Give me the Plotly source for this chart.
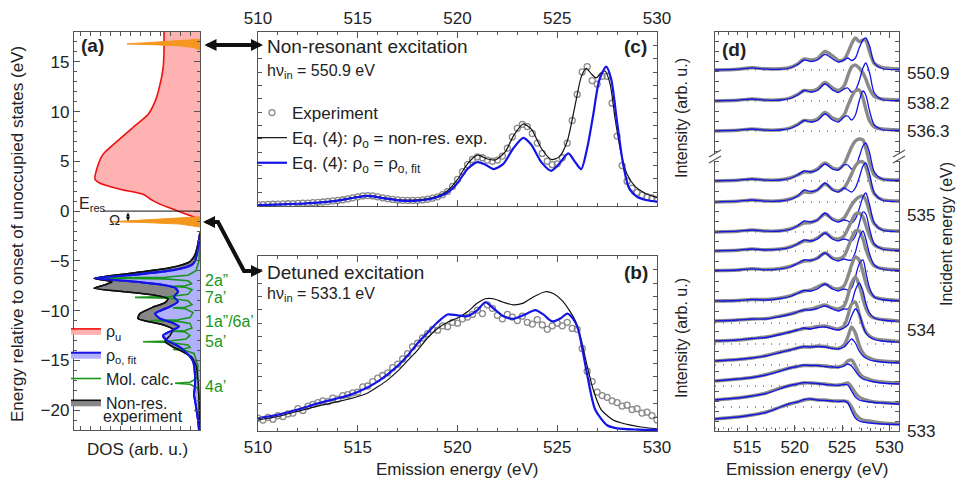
import plotly.graph_objects as go

W, H = 958, 480
FONT = "Liberation Sans, Arial, Helvetica, sans-serif"

# ---------------- Panel (a): densities of states (energy in eV, DOS in arb. u.) ----------------
rho_u_energy = [-1.0, -0.6, -0.2, 0.3, 0.7, 1.1, 1.7, 2.2, 2.8, 3.2, 4.3, 5.7, 7.0, 8.4, 9.7, 11.0, 12.3, 14.3, 16.0, 18.0]
rho_u_dos = [0.0, 0.06, 0.17, 0.30, 0.40, 0.48, 0.57, 0.80, 1.0, 1.05, 1.03, 0.97, 0.83, 0.67, 0.52, 0.45, 0.41, 0.37, 0.36, 0.36]

rho_fit_energy = [-2.3, -3.5, -4.4, -5.0, -5.4, -5.9, -6.4, -6.75, -7.0, -7.4, -7.7, -8.1, -8.6, -9.1, -9.6, -10.3,
                  -10.8, -11.2, -11.6, -12.0, -12.5, -13.0, -13.5, -14.1, -15.1, -16.5, -17.5, -18.5, -19.0, -20.0, -21.0, -22.0]
rho_fit_dos = [0.0, 0.015, 0.033, 0.05, 0.083, 0.25, 0.65, 1.05, 0.75, 0.38, 0.25, 0.22, 0.26, 0.22, 0.30, 0.45,
               0.40, 0.28, 0.21, 0.28, 0.37, 0.33, 0.23, 0.15, 0.07, 0.05, 0.05, 0.06, 0.05, 0.035, 0.02, 0.01]

nonres_energy = [-2.2, -3.3, -4.4, -5.07, -5.7, -6.2, -6.75, -7.1, -7.4, -7.75, -8.1, -8.4, -8.8, -9.2, -9.7, -10.3,
                 -10.8, -11.4, -11.9, -12.5, -13.1, -13.6, -14.1, -14.7, -15.5, -17.0, -19.0, -22.0]
nonres_dos = [0.0, 0.02, 0.05, 0.10, 0.30, 0.65, 1.06, 0.88, 0.95, 1.06, 0.75, 0.48, 0.32, 0.35, 0.48, 0.60,
              0.62, 0.38, 0.27, 0.30, 0.35, 0.28, 0.18, 0.08, 0.04, 0.02, 0.01, 0.005]

molcalc_energy = [-2.0, -5.0, -6.0, -6.45, -6.65, -6.73, -6.81, -7.0, -7.3, -7.5, -7.57, -7.64, -7.9, -8.35, -8.58,
                  -8.67, -8.76, -9.0, -9.4, -9.66, -9.73, -9.8, -10.2, -10.7, -10.92, -11.0, -11.08, -11.3, -11.75,
                  -12.0, -12.07, -12.14, -12.5, -12.85, -13.05, -13.13, -13.21, -13.45, -13.7, -13.83, -13.9, -13.97,
                  -14.3, -15.5, -16.8, -17.2, -17.3, -17.4, -17.8, -19.0, -22.0]
molcalc_dos = [0.0, 0.01, 0.04, 0.12, 0.35, 1.05, 0.35, 0.12, 0.08, 0.15, 0.27, 0.15, 0.08, 0.12, 0.30,
               0.65, 0.30, 0.12, 0.08, 0.15, 0.27, 0.15, 0.07, 0.10, 0.22, 0.50, 0.22, 0.10, 0.08,
               0.15, 0.27, 0.15, 0.10, 0.14, 0.30, 0.57, 0.30, 0.12, 0.10, 0.16, 0.27, 0.16,
               0.06, 0.02, 0.03, 0.10, 0.25, 0.10, 0.02, 0.005, 0.0]

exc_nonres_energy = [17.27, 17.1, 16.95, 16.8, 16.72, 16.6, 16.45, 16.2]
exc_nonres_dos = [0.0, 0.25, 0.50, 0.73, 0.45, 0.2, 0.07, 0.0]
exc_detuned_energy = [-0.57, -0.75, -0.92, -1.07, -1.15, -1.3, -1.6]
exc_detuned_dos = [0.0, 0.3, 0.6, 0.88, 0.55, 0.2, 0.0]

orbital_labels = ["2a”", "7a’", "1a”/6a’", "5a’", "4a’"]
orbital_energies = [-7.0, -8.7, -11.1, -13.1, -17.6]

# ---------------- Panel (c): non-resonant excitation ----------------
c_exp_energy = [510.00 + 0.25 * i for i in range(81)]
c_exp_int = [0.005, 0.005, 0.006, 0.007, 0.008, 0.009, 0.010, 0.011, 0.012, 0.013, 0.014, 0.016, 0.018, 0.020,
             0.023, 0.026, 0.029, 0.033, 0.038, 0.044, 0.050, 0.055, 0.057, 0.055, 0.050, 0.044, 0.039, 0.035,
             0.032, 0.030, 0.029, 0.029, 0.030, 0.032, 0.036, 0.042, 0.050, 0.062, 0.080, 0.110, 0.150, 0.195,
             0.235, 0.265, 0.280, 0.275, 0.262, 0.255, 0.262, 0.285, 0.330, 0.395, 0.445, 0.468, 0.455, 0.415,
             0.360, 0.300, 0.255, 0.235, 0.240, 0.275, 0.360, 0.490, 0.640, 0.770, 0.800, 0.720, 0.700, 0.745,
             0.745, 0.590, 0.400, 0.230, 0.140, 0.100, 0.075, 0.060, 0.050, 0.043, 0.037]
c_nonres_energy = [510, 511, 512, 513, 514, 514.75, 515.5, 516.25, 517, 518, 518.75, 519.5, 520, 520.5, 521, 521.5,
                   521.9, 522.4, 522.8, 523.3, 523.7, 524.2, 524.7, 525.1, 525.5, 525.9, 526.2, 526.45, 526.7, 526.95,
                   527.2, 527.4, 527.65, 527.9, 528.2, 528.5, 528.9, 529.4, 530]
c_nonres_int = [0.003, 0.006, 0.01, 0.017, 0.03, 0.045, 0.058, 0.045, 0.033, 0.033, 0.045, 0.085, 0.15, 0.24, 0.29,
                0.268, 0.262, 0.31, 0.40, 0.47, 0.44, 0.33, 0.265, 0.28, 0.37, 0.58, 0.74, 0.79, 0.76, 0.735,
                0.765, 0.775, 0.70, 0.50, 0.30, 0.18, 0.11, 0.07, 0.045]
c_fit_energy = [510, 511, 512, 513, 514, 514.75, 515.5, 516.25, 517, 518, 518.75, 519.5, 520, 520.5, 521, 521.4,
                521.8, 522.3, 522.8, 523.3, 523.7, 524.2, 524.7, 525.1, 525.55, 525.9, 526.2, 526.5, 526.8, 527.1,
                527.45, 527.7, 528.0, 528.3, 528.6, 529.0, 529.5, 530]
c_fit_int = [0.002, 0.005, 0.01, 0.017, 0.028, 0.043, 0.055, 0.042, 0.03, 0.028, 0.04, 0.075, 0.13, 0.21, 0.25,
             0.235, 0.21, 0.24, 0.33, 0.39, 0.35, 0.25, 0.20, 0.24, 0.30, 0.25, 0.21, 0.33, 0.52, 0.72,
             0.80, 0.73, 0.48, 0.24, 0.10, 0.05, 0.03, 0.022]

# ---------------- Panel (b): detuned excitation ----------------
b_exp_energy = [510.00 + 0.25 * i for i in range(81)]
b_exp_int = [0.07, 0.06, 0.075, 0.065, 0.085, 0.08, 0.095, 0.10, 0.125, 0.115, 0.14, 0.15, 0.16, 0.17, 0.165,
             0.185, 0.18, 0.2, 0.205, 0.215, 0.22, 0.25, 0.255, 0.28, 0.3, 0.315, 0.33, 0.36, 0.38, 0.41, 0.44,
             0.48, 0.5, 0.53, 0.555, 0.58, 0.575, 0.6, 0.595, 0.62, 0.615, 0.64, 0.65, 0.665, 0.69, 0.67, 0.72,
             0.70, 0.66, 0.64, 0.665, 0.65, 0.63, 0.655, 0.62, 0.61, 0.635, 0.605, 0.58, 0.6, 0.615, 0.6, 0.62,
             0.585, 0.58, 0.47, 0.34, 0.28, 0.22, 0.2, 0.19, 0.17, 0.16, 0.14, 0.145, 0.12, 0.125, 0.1, 0.105,
             0.085, 0.06]
b_nonres_energy = [510, 511, 512, 513, 514, 515, 515.5, 516, 516.5, 517, 517.5, 518, 518.5, 519, 519.5, 520, 520.5,
                   521, 521.4, 521.8, 522.3, 522.8, 523.3, 523.8, 524.4, 524.8, 525.2, 525.6, 525.9, 526.2, 526.5,
                   526.8, 527.2, 527.8, 528.5, 529.2, 530]
b_nonres_int = [0.06, 0.08, 0.11, 0.14, 0.165, 0.195, 0.215, 0.25, 0.29, 0.34, 0.40, 0.46, 0.53, 0.585, 0.62, 0.645,
                0.68, 0.73, 0.755, 0.755, 0.735, 0.72, 0.73, 0.765, 0.795, 0.785, 0.75, 0.69, 0.63, 0.52, 0.37,
                0.235, 0.12, 0.06, 0.035, 0.02, 0.01]
b_fit_energy = [510, 511, 512, 513, 514, 514.5, 515, 516, 517, 517.5, 518, 518.5, 519, 519.5, 520, 520.5, 521,
                521.4, 521.8, 522.3, 522.8, 523.3, 523.9, 524.3, 524.75, 525.2, 525.5, 525.8, 526.05, 526.45,
                526.9, 527.5, 528, 529, 530]
b_fit_int = [0.07, 0.09, 0.12, 0.155, 0.185, 0.2, 0.22, 0.28, 0.37, 0.43, 0.50, 0.56, 0.62, 0.665, 0.66, 0.655,
             0.69, 0.735, 0.70, 0.655, 0.64, 0.66, 0.69, 0.665, 0.625, 0.645, 0.67, 0.64, 0.58, 0.35,
             0.12, 0.03, 0.012, 0.005, 0.003]

# ---------------- Panel (d): RIXS spectra stacked by incident energy ----------------
d_emission = [511.6, 514, 515.5, 517, 518.5, 519.5, 520.3, 521, 521.7, 522.4, 523.2, 524.0, 524.6, 525.2,
              525.6, 526.0, 526.4, 526.8, 527.2, 527.5, 527.9, 528.4, 529.2, 531]
d_offsets = [361, 330, 300, 250, 229, 199, 180, 160, 129, 108, 87, 66, 45, 24, 3]
d_incident_labels = ["550.9", "538.2", "536.3", "535", "534", "533"]
d_incident_label_pos = [358, 328, 300, 216, 101, 0]

exp_s01 = [0, 0.8, 2.2, 1.2, 1.2, 2.5, 6, 11, 10, 11.5, 18.5, 14, 9.5, 10.5, 17, 26, 32, 28.5, 30, 29.5, 18, 6.5, 2.6, 1]
fit_s01 = [0, 0.8, 2.2, 0.8, 0.8, 2, 5.5, 10, 8.5, 10, 15.6, 11, 8, 10, 12, 9.5, 12, 22, 30, 32, 24, 7, 1.5, 0.5]
exp_s02 = [0, 0.8, 2, 1, 1.2, 3, 6.5, 10.5, 10, 12, 18.5, 13, 10.5, 15, 25, 34, 36, 33, 28, 22, 12, 4.5, 2, 1]
fit_s02 = [0, 0.8, 2, 0.8, 1, 2.5, 6, 10.5, 9, 10.5, 17, 11, 8.5, 12, 13, 9, 11, 20, 33, 38, 28, 8, 1.5, 0.5]
exp_s03 = [0, 0.8, 2, 1, 1.2, 3, 6.5, 10.5, 10, 12, 18.5, 13, 11, 16, 25, 34, 40, 41, 33, 22, 10, 4, 2, 1]
fit_s03 = [0, 0.8, 2, 0.8, 1, 2.5, 6, 10.5, 9, 10.5, 17, 11, 9, 14, 15, 11, 16, 30, 40, 36, 20, 6, 1.5, 0.5]
exp_s04 = [0, 0.8, 2, 1, 1.2, 3, 6, 9, 9, 12, 18, 13, 12, 17, 25, 34, 40, 42, 41, 33, 18, 6, 2, 1]
fit_s04 = [0, 0.8, 2, 0.8, 1, 2.5, 6, 10, 9, 11, 17, 12, 11, 16, 16, 12, 14, 24, 35, 38, 28, 9, 2, 0.5]
exp_s05 = [0, 0.8, 2, 1, 1.2, 3, 6, 10, 9.5, 12, 18, 12.5, 11, 14, 20, 28, 36, 40, 40, 35, 22, 8, 2.5, 1]
fit_s05 = [0, 0.8, 2, 0.8, 1, 2.5, 6, 12, 10.5, 12, 19, 12, 10, 14, 12, 10, 14, 24, 36, 39, 28, 9, 2, 0.5]
exp_s06 = [0, 0.8, 2, 1, 1.2, 3, 6, 9, 9.5, 12, 18, 13, 11, 14, 20, 27, 32, 35, 36, 32, 20, 8, 2.5, 1]
fit_s06 = [0, 0.8, 2, 0.8, 1, 2.5, 6, 11, 10, 12, 19, 12, 10, 12, 11, 9, 13, 23, 35, 39, 27, 9, 2, 0.5]
exp_s07 = [0, 0.8, 2, 1.2, 2, 4, 7, 10, 10, 13, 18, 13, 12, 15, 22, 30, 37, 38, 34, 26, 15, 6, 2.5, 1]
fit_s07 = [0, 0.8, 2, 1, 1.8, 3.5, 7, 11, 10, 12, 18, 12, 10, 12, 11, 10, 15, 27, 39, 37, 22, 7, 2, 0.5]
exp_s08 = [0.5, 1, 2.2, 1.5, 2.5, 4.5, 7.5, 10, 10.5, 13, 18, 13, 12, 15, 23, 33, 40, 40, 32, 22, 12, 5, 2.5, 1]
fit_s08 = [0.5, 1, 2.2, 1.2, 2.2, 4, 7.5, 11, 10.5, 12.5, 18, 12, 10, 12, 11, 11, 19, 33, 40, 32, 17, 6, 2, 0.5]
exp_s09 = [1, 1.5, 2.5, 2.5, 4, 6, 9, 11, 12, 15, 18, 14, 13, 16, 25, 37, 45, 42, 30, 19, 10, 5, 3, 1.5]
fit_s09 = [1, 1.5, 2.5, 2, 3.5, 5.5, 8.5, 11.5, 11, 13, 18, 13, 11, 13, 12, 14, 25, 38, 42, 30, 14, 5, 2.5, 1]
exp_s10 = [2, 3, 4, 4.5, 7, 9, 11, 13, 14, 16, 18, 15, 14, 17, 27, 40, 46, 38, 24, 15, 8, 5, 3.5, 2]
fit_s10 = [2, 3, 4, 4, 6.5, 8.5, 11, 13, 13, 14.5, 17, 14, 12, 14, 14, 20, 33, 40, 32, 20, 10, 5, 3, 1.5]
exp_s11 = [3, 4, 5.5, 7, 10, 12, 14, 15.5, 16, 17.5, 18, 16, 15, 18, 28, 40, 42, 30, 18, 12, 8, 5.5, 4, 2.5]
fit_s11 = [3, 4, 5.5, 6.5, 9.5, 12, 14, 16, 15, 16.5, 17, 15, 14, 16, 19, 28, 35, 30, 18, 11, 7, 4.5, 3, 2]
exp_s12 = [4, 5.5, 7, 9.5, 13, 15, 17, 18, 18, 19, 18.5, 17, 16.5, 20, 28, 38, 32, 20, 12, 9, 7, 5, 4, 3]
fit_s12 = [4, 5.5, 7, 9, 12.5, 15, 17, 18.5, 18, 18.5, 18, 16.5, 16, 18, 22, 26, 22, 14, 9, 7, 5, 4, 3, 2]
exp_s13 = [5, 7, 8.5, 11.5, 15.5, 18, 19.5, 20.5, 20.5, 20.5, 20, 19, 19, 21, 25, 26, 20, 13, 9, 8, 6.5, 5, 4, 3]
fit_s13 = [5, 7, 8.5, 11, 15, 18, 19.5, 21, 20.5, 20.5, 19.5, 19, 18.5, 20, 22, 20, 15, 10, 7, 6, 5, 4, 3, 2]
exp_s14 = [7, 9, 11, 14, 19, 21.5, 23, 24, 24, 23.5, 23, 22, 22, 23, 24, 20, 14, 10, 8, 7, 6, 5, 4.5, 3.5]
fit_s14 = [7, 9, 11, 13.5, 18.5, 21.5, 23, 24.5, 24, 23.5, 22.5, 22, 21.5, 22.5, 22, 16, 10, 7, 6, 5.5, 5, 4.5, 4, 3]
exp_s15 = [9, 11, 13, 16, 21, 24, 26, 28, 29, 28, 28, 27, 27, 27, 26, 21, 14, 10, 8, 7.5, 7, 6, 5, 4]
fit_s15 = [9, 11, 13, 15.5, 21, 24.5, 26, 28.5, 29, 28, 27.5, 27, 26.5, 27, 25, 17, 10, 7, 6, 5.5, 5, 4.5, 4, 3.5]

d_exp = [exp_s01, exp_s02, exp_s03, exp_s04, exp_s05, exp_s06, exp_s07, exp_s08,
         exp_s09, exp_s10, exp_s11, exp_s12, exp_s13, exp_s14, exp_s15]
d_fit = [fit_s01, fit_s02, fit_s03, fit_s04, fit_s05, fit_s06, fit_s07, fit_s08,
         fit_s09, fit_s10, fit_s11, fit_s12, fit_s13, fit_s14, fit_s15]

# ---------------- colours ----------------
RED, PINK = "#f01010", "rgba(255,170,170,0.9)"
BLUE, LAV = "#1414e6", "rgb(176,176,252)"
BLACK, GREYF = "#111111", "rgb(135,135,135)"
GREEN = "#1a961a"
ORANGE = "rgb(245,150,30)"
GREYC = "#8a8a8a"
AXC = "#555555"


def px(x):
    return x / W


def py(y):
    return 1 - y / H


fig = go.Figure()

# ---- panel (a) ----
fig.add_trace(go.Scatter(x=nonres_dos, y=nonres_energy, xaxis="x", yaxis="y", mode="lines", fill="tozerox",
                         fillcolor=GREYF, line=dict(color=BLACK, width=1.6, shape="spline", smoothing=0.6),
                         name="Non-res.", legend="legend", legendgroup="a4", legendrank=4))
fig.add_trace(go.Scatter(x=rho_fit_dos, y=rho_fit_energy, xaxis="x", yaxis="y", mode="lines", fill="tozerox",
                         fillcolor=LAV, line=dict(color=BLUE, width=2, shape="spline", smoothing=0.6),
                         name="ρ<sub>o, fit</sub>", legend="legend", legendgroup="a2", legendrank=2))
fig.add_trace(go.Scatter(x=rho_u_dos, y=rho_u_energy, xaxis="x", yaxis="y", mode="lines", fill="tozerox",
                         fillcolor=PINK, line=dict(color=RED, width=1.6, shape="spline", smoothing=0.6),
                         name="ρ<sub>u</sub>", legend="legend", legendgroup="a1", legendrank=1))
for ex, en in ((exc_nonres_dos, exc_nonres_energy), (exc_detuned_dos, exc_detuned_energy)):
    fig.add_trace(go.Scatter(x=ex, y=en, xaxis="x", yaxis="y", mode="lines", fill="tozerox",
                             fillcolor=ORANGE, line=dict(color=ORANGE, width=1), showlegend=False))
fig.add_trace(go.Scatter(x=molcalc_dos, y=molcalc_energy, xaxis="x", yaxis="y", mode="lines",
                         line=dict(color=GREEN, width=1.6), name="Mol. calc.", legend="legend",
                         legendgroup="a3", legendrank=3))
fig.add_trace(go.Scatter(x=nonres_dos, y=nonres_energy, xaxis="x", yaxis="y", mode="lines",
                         line=dict(color=BLACK, width=1.6, shape="spline", smoothing=0.6), showlegend=False))
fig.add_trace(go.Scatter(x=rho_fit_dos, y=rho_fit_energy, xaxis="x", yaxis="y", mode="lines",
                         line=dict(color=BLUE, width=2, shape="spline", smoothing=0.6), showlegend=False))

# ---- panel (c) ----
fig.add_trace(go.Scatter(x=c_exp_energy, y=c_exp_int, xaxis="x2", yaxis="y2", mode="markers",
                         marker=dict(symbol="circle-open", size=6, color=GREYC, line=dict(width=1.3)),
                         name="Experiment", legend="legend2", legendgroup="c1"))
fig.add_trace(go.Scatter(x=c_nonres_energy, y=c_nonres_int, xaxis="x2", yaxis="y2", mode="lines",
                         line=dict(color=BLACK, width=1.2, shape="spline", smoothing=0.7),
                         name="Eq. (4): ρ<sub>o</sub> = non-res. exp.", legend="legend2", legendgroup="c2"))
fig.add_trace(go.Scatter(x=c_fit_energy, y=c_fit_int, xaxis="x2", yaxis="y2", mode="lines",
                         line=dict(color=BLUE, width=2.2, shape="spline", smoothing=0.7),
                         name="Eq. (4): ρ<sub>o</sub> = ρ<sub>o, fit</sub>", legend="legend2", legendgroup="c3"))

# ---- panel (b) ----
fig.add_trace(go.Scatter(x=b_exp_energy, y=b_exp_int, xaxis="x3", yaxis="y3", mode="markers",
                         marker=dict(symbol="circle-open", size=6, color=GREYC, line=dict(width=1.3)),
                         showlegend=False))
fig.add_trace(go.Scatter(x=b_nonres_energy, y=b_nonres_int, xaxis="x3", yaxis="y3", mode="lines",
                         line=dict(color=BLACK, width=1.2, shape="spline", smoothing=0.7), showlegend=False))
fig.add_trace(go.Scatter(x=b_fit_energy, y=b_fit_int, xaxis="x3", yaxis="y3", mode="lines",
                         line=dict(color=BLUE, width=2.2, shape="spline", smoothing=0.7), showlegend=False))

# ---- panel (d) ----
shapes = []
for off, ex, ft in zip(d_offsets, d_exp, d_fit):
    shapes.append(dict(type="line", xref="x4 domain", yref="y4", x0=0, x1=1, y0=off, y1=off,
                       line=dict(color="#777777", width=1.6, dash="1px,7px"), layer="below"))
    fig.add_trace(go.Scatter(x=d_emission, y=[off + v for v in ex], xaxis="x4", yaxis="y4", mode="lines",
                             line=dict(color=GREYC, width=3.4, shape="spline", smoothing=0.8), showlegend=False))
    fig.add_trace(go.Scatter(x=d_emission, y=[off + v for v in ft], xaxis="x4", yaxis="y4", mode="lines",
                             line=dict(color=BLUE, width=1.3, shape="spline", smoothing=0.8), showlegend=False))

# ---------------- axes ----------------
common = dict(showline=True, linecolor=AXC, linewidth=1.4, mirror="ticks", ticks="inside", tickcolor=AXC,
              tickwidth=1, showgrid=False, zeroline=False, automargin=False,
              tickfont=dict(size=17, color="#222", family=FONT))
minor_e = dict(dtick=1, ticks="inside", ticklen=3, tickcolor=AXC)

fig.update_layout(
    template="none",
    xaxis=dict(common, domain=[px(74), px(200)], range=[1.26, 0], dtick=0.1, ticklen=4,
               showticklabels=False, anchor="y"),
    yaxis=dict(common, domain=[py(430), py(32)], range=[-22, 18], dtick=5, ticklen=6, minor=minor_e,
               anchor="x"),
    xaxis2=dict(common, domain=[px(258), px(657)], range=[510, 530], dtick=5, ticklen=6, minor=minor_e,
                side="top", anchor="y2"),
    yaxis2=dict(common, domain=[py(206), py(32)], range=[-0.003, 1.0], dtick=0.0768, ticklen=4,
                showticklabels=False, anchor="x2"),
    xaxis3=dict(common, domain=[px(258), px(657)], range=[510, 530], dtick=5, ticklen=6, minor=minor_e,
                anchor="y3"),
    yaxis3=dict(common, domain=[py(431), py(256)], range=[-0.003, 1.0], dtick=0.0768, ticklen=4,
                showticklabels=False, anchor="x3"),
    xaxis4=dict(common, domain=[px(715), px(899)], range=[511.6, 531], dtick=5, tick0=510, ticklen=6,
                minor=minor_e, anchor="y4"),
    yaxis4=dict(common, domain=[py(431), py(32)], range=[0, 399], dtick=10, ticklen=4,
                showticklabels=False, anchor="x4"),
)

# ---------------- annotations ----------------
ann = []


def text(t, x, y, size=17, xanchor="left", yanchor="middle", color="#222", angle=0, bold=False):
    if bold:
        t = "<b>" + t + "</b>"
    ann.append(dict(text=t, x=px(x), y=py(y), xref="paper", yref="paper", showarrow=False, xanchor=xanchor,
                    yanchor=yanchor, textangle=angle, font=dict(size=size, color=color, family=FONT)))


text("(a)", 79, 45, size=19, bold=True)
text("(c)", 649, 47, size=19, xanchor="right", bold=True)
text("(b)", 650, 272, size=19, xanchor="right", bold=True)
text("(d)", 720, 50, size=19, bold=True)
text("Non-resonant excitation", 265, 46, size=19)
text("hν<sub>in</sub> = 550.9 eV", 265, 71, size=16)
text("Detuned excitation", 265, 272, size=19)
text("hν<sub>in</sub> = 533.1 eV", 265, 294, size=16)
text("DOS (arb. u.)", 137, 449, size=17, xanchor="center")
text("Emission energy (eV)", 457, 469, size=17, xanchor="center")
text("Emission energy (eV)", 807, 469, size=17, xanchor="center")
text("Energy relative to onset of unoccupied states (eV)", 17, 234, size=17, xanchor="center", angle=-90)
text("Intensity (arb. u.)", 681, 118, size=16, xanchor="center", angle=-90)
text("Intensity (arb. u.)", 681, 338, size=16, xanchor="center", angle=-90)
text("Incident energy (eV)", 946, 234, size=16, xanchor="center", angle=-90)
text("E<sub>res</sub>", 77, 204, size=16)
text("experiment", 101, 416, size=16)

for lab, en in zip(orbital_labels, orbital_energies):
    ann.append(dict(text=lab, x=px(203), y=en, xref="paper", yref="y", showarrow=False, xanchor="left",
                    yanchor="middle", font=dict(size=16, color=GREEN, family=FONT)))

for lab, pos in zip(d_incident_labels, d_incident_label_pos):
    ann.append(dict(text=lab, x=px(905), y=pos, xref="paper", yref="y4", showarrow=False, xanchor="left",
                    yanchor="middle", font=dict(size=17, color="#222", family=FONT)))

# Omega arrow between E_res and the detuned excitation
ann.append(dict(text="", x=0.72, y=-1.0, xref="x", yref="y", ax=0, ay=-10, axref="pixel", ayref="pixel",
                showarrow=True, arrowhead=2, arrowside="end+start", arrowsize=0.8, arrowwidth=1,
                arrowcolor=BLACK))
ann.append(dict(text="Ω", x=0.86, y=-0.8, xref="x", yref="y", showarrow=False, xanchor="center",
                yanchor="middle", font=dict(size=15, color="#222", family=FONT)))

# big arrows linking DOS panel with spectra
ann.append(dict(text="", x=px(263), y=py(45), xref="paper", yref="paper", ax=-60, ay=0, showarrow=True,
                arrowhead=2, arrowside="end+start", arrowsize=0.6, arrowwidth=4, arrowcolor=BLACK))
ann.append(dict(text="", x=px(203), y=py(222), xref="paper", yref="paper", ax=14, ay=0, showarrow=True,
                arrowhead=2, arrowsize=0.6, arrowwidth=4, arrowcolor=BLACK))
ann.append(dict(text="", x=px(263), y=py(271), xref="paper", yref="paper", ax=-14, ay=0, showarrow=True,
                arrowhead=2, arrowsize=0.6, arrowwidth=4, arrowcolor=BLACK))
shapes.append(dict(type="path", xref="paper", yref="paper",
                   path=f"M {px(212)},{py(222)} L {px(218)},{py(222)} L {px(244)},{py(271)} L {px(252)},{py(271)}",
                   line=dict(color=BLACK, width=4)))

# E_res level line
shapes.append(dict(type="line", xref="x", yref="y", x0=0.97, x1=0, y0=0, y1=0, line=dict(color=BLACK, width=1)))

# axis breaks on panel (d)
for xb in (715, 899):
    shapes.append(dict(type="rect", xref="paper", yref="paper", x0=px(xb - 3), x1=px(xb + 3), y0=py(161),
                       y1=py(154), fillcolor="white", line=dict(width=0)))
    for dy in (-3, 3):
        shapes.append(dict(type="line", xref="paper", yref="paper", x0=px(xb - 6), x1=px(xb + 6),
                           y0=py(160 + dy), y1=py(153 + dy), line=dict(color=AXC, width=1.2)))

fig.update_layout(
    width=W, height=H, margin=dict(l=0, r=0, t=0, b=0, pad=0), autosize=False,
    paper_bgcolor="white", plot_bgcolor="rgba(0,0,0,0)",
    font=dict(family=FONT, size=17, color="#222"),
    annotations=ann, shapes=shapes,
    legend=dict(x=px(66), y=py(314), xanchor="left", yanchor="top", bgcolor="rgba(0,0,0,0)",
                font=dict(size=16, family=FONT), itemwidth=30, traceorder="grouped", tracegroupgap=0),
    legend2=dict(x=px(252), y=py(95), xanchor="left", yanchor="top", bgcolor="rgba(0,0,0,0)",
                 font=dict(size=17, family=FONT), itemwidth=30, traceorder="grouped", tracegroupgap=0),
)

fig.write_html("out.html", config={"displayModeBar": False},
               post_script="document.body.style.margin='0px';document.body.style.overflow='hidden';")
